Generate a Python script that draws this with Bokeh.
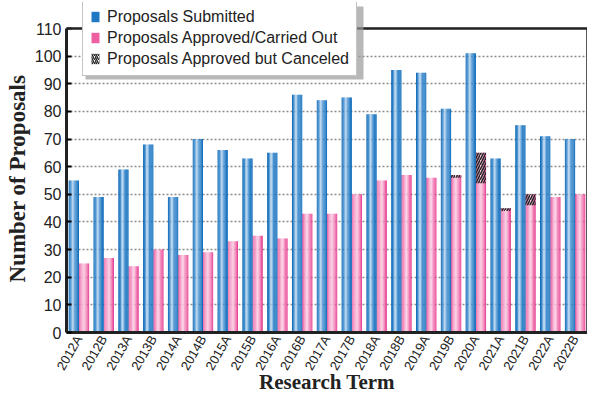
import math
from bokeh.plotting import figure
from bokeh.models import (FactorRange, Range1d, Legend, LegendItem, ColumnDataSource,
                          FixedTicker, Span, LinearAxis, BoxAnnotation, Title)
from bokeh.transform import dodge
from bokeh.embed import file_html
from bokeh.resources import INLINE

terms = ["2012A", "2012B", "2013A", "2013B", "2014A", "2014B", "2015A", "2015B",
         "2016A", "2016B", "2017A", "2017B", "2018A", "2018B", "2019A", "2019B",
         "2020A", "2021A", "2021B", "2022A", "2022B"]
submitted = [55, 49, 59, 68, 49, 70, 66, 63, 65, 86, 84, 85, 79, 95, 94, 81, 101, 63, 75, 71, 70]
approved = [25, 27, 24, 30, 28, 29, 33, 35, 34, 43, 43, 50, 55, 57, 56, 56, 54, 44, 46, 49, 50]
canceled = [0, 0, 0, 0, 0, 0, 0, 0, 0, 0, 0, 0, 0, 0, 0, 1, 11, 1, 4, 0, 0]
y_ticks = [0, 10, 20, 30, 40, 50, 60, 70, 80, 90, 100, 110]
Y_MAX = 110

total = [a + c for a, c in zip(approved, canceled)]
src = ColumnDataSource(dict(term=terms, sub=submitted, app=approved, tot=total))

LEFT, TOP = 66, 2
FRAME_W, FRAME_H = 521, 330
ABOVE = 26  # pixels of frame above the 110 line (room for the legend)
y_end = Y_MAX * FRAME_H / (FRAME_H - ABOVE)

p = figure(x_range=FactorRange(*terms), y_range=Range1d(0, y_end),
           frame_width=FRAME_W, frame_height=FRAME_H,
           output_backend="svg", toolbar_location=None,
           min_border_left=LEFT, min_border_right=0, min_border_top=TOP,
           min_border_bottom=0)

BAR_W = 0.41
N = 12


def lerp(c1, c2, t):
    return tuple(int(round(a + (b - a) * t)) for a, b in zip(c1, c2))


def hexc(c):
    return "#%02x%02x%02x" % c


def profile(stops, t):
    for (t0, c0), (t1, c1) in zip(stops[:-1], stops[1:]):
        if t0 <= t <= t1:
            return hexc(lerp(c0, c1, (t - t0) / (t1 - t0)))
    return hexc(stops[-1][1])


BLUE_STOPS = [(0.0, (0, 92, 172)), (0.2, (40, 128, 202)), (0.4, (200, 222, 242)),
              (0.62, (60, 138, 206)), (1.0, (0, 100, 182))]
PINK_STOPS = [(0.0, (236, 82, 156)), (0.5, (250, 208, 229)),
              (0.78, (240, 118, 175)), (1.0, (228, 45, 136))]

sw = BAR_W / N
for i in range(N):
    t = (i + 0.5) / N
    off_b = -BAR_W + (i + 0.5) * sw
    off_p = (i + 0.5) * sw
    p.vbar(x=dodge("term", off_b, range=p.x_range), top="sub", width=sw * 1.1,
           fill_color=profile(BLUE_STOPS, t), line_color=None, source=src)
    p.vbar(x=dodge("term", off_p, range=p.x_range), top="tot", width=sw * 1.1,
           fill_color=profile(PINK_STOPS, t), line_color=None, source=src)

# canceled hatched segment
p.vbar(x=dodge("term", BAR_W / 2, range=p.x_range), bottom="app", top="tot", width=BAR_W,
       fill_alpha=0, line_color=None, hatch_pattern="/", hatch_color="#2a2a2a",
       hatch_weight=1.6, hatch_scale=5, source=src)

# legend dummy renderers
r1 = p.vbar(x=[terms[0]], top=[0], bottom=[0], width=0, fill_color="#1f78c4", line_color=None)
r2 = p.vbar(x=[terms[0]], top=[0], bottom=[0], width=0, fill_color="#ee5ea2", line_color=None)
r3 = p.vbar(x=[terms[0]], top=[0], bottom=[0], width=0, fill_color="white", line_color=None,
            hatch_pattern="/", hatch_color="#222222", hatch_weight=1.4, hatch_scale=4)

# top border line at 110 and right border
p.add_layout(Span(location=Y_MAX, dimension="width", line_color="#222222", line_width=2.5))
right_ax = LinearAxis(bounds=(0, Y_MAX), ticker=FixedTicker(ticks=[]),
                      axis_line_width=2.5, axis_line_color="#222222",
                      major_label_text_font_size="0px", major_tick_line_color=None,
                      major_tick_out=0, major_tick_in=0, major_label_standoff=0,
                      minor_tick_line_color=None)
p.add_layout(right_ax, "right")

LEG_H, LEG_W = 73, 278
shadow = BoxAnnotation(left=16 + 3, right=16 + LEG_W + 3,
                       top=FRAME_H - 1 - 3, bottom=FRAME_H - 1 - LEG_H - 3,
                       left_units="screen", right_units="screen",
                       top_units="screen", bottom_units="screen",
                       fill_color="#9a9a9a", fill_alpha=0.7, line_color=None)
p.add_layout(shadow)

legend = Legend(items=[LegendItem(label="Proposals Submitted", renderers=[r1]),
                       LegendItem(label="Proposals Approved/Carried Out", renderers=[r2]),
                       LegendItem(label="Proposals Approved but Canceled", renderers=[r3])],
                location=(16, FRAME_H - 1 - LEG_H))
legend.label_text_font = "Liberation Sans"
legend.label_text_font_size = "16px"
legend.label_text_color = "#222222"
legend.label_height = 19
legend.glyph_width = 10
legend.glyph_height = 13
legend.spacing = 2
legend.padding = 7
legend.margin = 0
legend.label_standoff = 7
legend.border_line_color = "#8a8a8a"
legend.border_line_width = 1
legend.background_fill_alpha = 1.0
p.add_layout(legend)

# axes and grid
p.xgrid.grid_line_color = None
p.ygrid.grid_line_color = "#8c8c8c"
p.ygrid.grid_line_dash = "2 2"
p.ygrid.grid_line_width = 1.5

p.yaxis[0].ticker = FixedTicker(ticks=y_ticks)
p.yaxis[0].bounds = (0, Y_MAX)
p.xaxis.axis_label = "Research Term"
for ax in (p.xaxis[0], p.yaxis[0]):
    ax.axis_line_width = 3
    ax.axis_line_color = "#222222"
    ax.major_label_text_font = "Liberation Sans"
    ax.major_label_text_color = "#222222"
    ax.axis_label_text_font = "Liberation Serif"
    ax.axis_label_text_font_style = "bold"
    ax.axis_label_text_color = "#222222"
    ax.minor_tick_line_color = None
p.xaxis[0].axis_label_text_font_size = "21px"
p.yaxis[0].major_label_text_font_size = "16px"
p.xaxis[0].major_label_text_font_size = "13px"
p.yaxis[0].major_tick_in = 5
p.yaxis[0].major_tick_out = 0
p.yaxis[0].major_tick_line_width = 2
p.yaxis[0].major_label_standoff = 5
p.xaxis[0].major_tick_line_color = None
p.xaxis[0].major_tick_out = 0
p.xaxis[0].major_tick_in = 0
p.xaxis[0].major_label_orientation = math.pi / 3
p.xaxis[0].major_label_standoff = 4
p.xaxis[0].axis_label_standoff = -10

# y axis title as a side title, lifted so it is centred on the 0-110 span
ytitle = Title(text="Number of Proposals", align="left", offset=50, standoff=4,
               text_font="Liberation Serif", text_font_style="bold",
               text_font_size="23px", text_color="#222222")
p.add_layout(ytitle, "left")

p.outline_line_color = None
p.background_fill_color = "white"
p.border_fill_color = "white"

open("out.html", "w").write(file_html(p, INLINE))
